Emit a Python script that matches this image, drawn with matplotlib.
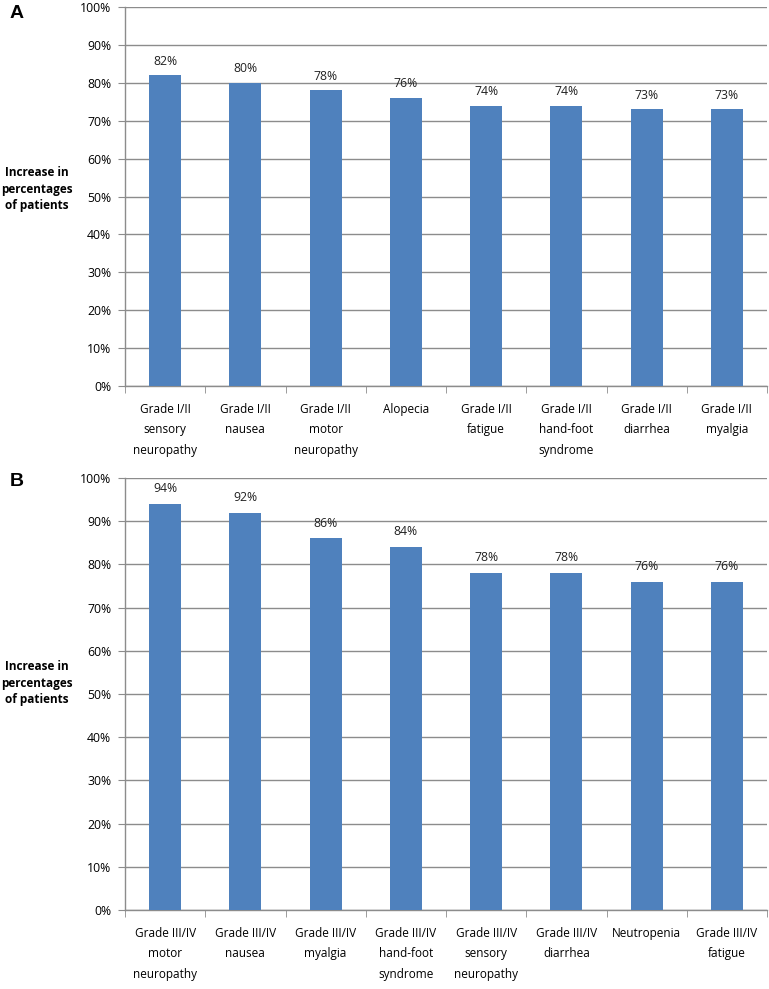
import matplotlib.pyplot as plt
from matplotlib.ticker import MultipleLocator, FuncFormatter

# Panel A: grade I/II toxicities
labels_a = [
    "Grade I/II\nsensory\nneuropathy",
    "Grade I/II\nnausea",
    "Grade I/II\nmotor\nneuropathy",
    "Alopecia",
    "Grade I/II\nfatigue",
    "Grade I/II\nhand-foot\nsyndrome",
    "Grade I/II\ndiarrhea",
    "Grade I/II\nmyalgia",
]
values_a = [82, 80, 78, 76, 74, 74, 73, 73]

# Panel B: grade III/IV toxicities
labels_b = [
    "Grade III/IV\nmotor\nneuropathy",
    "Grade III/IV\nnausea",
    "Grade III/IV\nmyalgia",
    "Grade III/IV\nhand-foot\nsyndrome",
    "Grade III/IV\nsensory\nneuropathy",
    "Grade III/IV\ndiarrhea",
    "Neutropenia",
    "Grade III/IV\nfatigue",
]
values_b = [94, 92, 86, 84, 78, 78, 76, 76]

BAR_COLOR = "#4F81BD"
GRID_COLOR = "#8C8C8C"
FONT = "Open Sans"

plt.rcParams["font.family"] = [FONT, "DejaVu Sans"]


def draw_panel(fig, rect, labels, values, letter, letter_y, ylab_y):
    ax = fig.add_axes(rect)
    x = range(len(values))
    ax.bar(x, values, width=0.4, color=BAR_COLOR, zorder=3)
    for xi, v in zip(x, values):
        ax.text(xi, v + 2.0, f"{v}%", ha="center", va="bottom", fontsize=8.8, color="#222222")

    ax.set_xlim(-0.5, len(values) - 0.5)
    ax.set_ylim(0, 100)
    ax.yaxis.set_major_locator(MultipleLocator(10))
    ax.yaxis.set_major_formatter(FuncFormatter(lambda v, p: f"{v:.0f}%"))
    ax.grid(axis="y", color=GRID_COLOR, linewidth=1.0, zorder=0)

    ax.set_xticks(list(x))
    ax.set_xticklabels(labels, fontsize=8.5, linespacing=1.75, va="top")
    ax.set_xticks([i - 0.5 for i in range(len(values) + 1)], minor=True)
    ax.tick_params(axis="x", which="major", length=0, pad=12)
    ax.tick_params(axis="x", which="minor", length=5, color=GRID_COLOR, direction="out")
    ax.tick_params(axis="y", length=5, color=GRID_COLOR, labelsize=8.8, pad=5)

    for side in ("top", "right"):
        ax.spines[side].set_visible(False)
    for side in ("left", "bottom"):
        ax.spines[side].set_color(GRID_COLOR)
        ax.spines[side].set_linewidth(1.0)

    fig.text(10 / 769, letter_y, letter, fontsize=14, fontweight="bold",
             family=["Liberation Sans", "DejaVu Sans"], ha="left", va="center")
    fig.text(37 / 769, ylab_y, "Increase in\npercentages\nof patients", fontsize=8.5,
             fontweight="bold", ha="center", va="center", linespacing=1.35)
    return ax


fig = plt.figure(figsize=(7.69, 9.89), dpi=100)
draw_panel(fig, [125 / 769, 1 - 386 / 989, 642 / 769, 379 / 989],
           labels_a, values_a, "A", 1 - 14 / 989, 1 - 189 / 989)
draw_panel(fig, [125 / 769, 1 - 910 / 989, 642 / 769, 432 / 989],
           labels_b, values_b, "B", 1 - 482 / 989, 1 - 683 / 989)

fig.savefig("out.png", dpi=100)
